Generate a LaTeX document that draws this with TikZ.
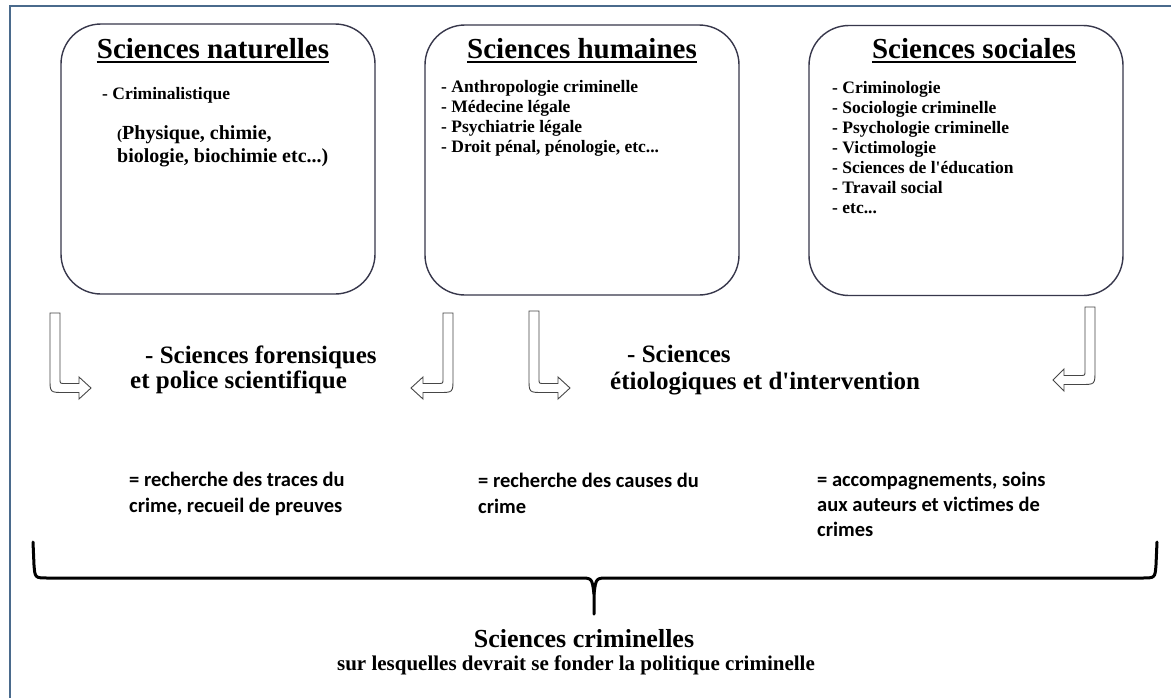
\documentclass[tikz,border=0pt]{standalone}
\usepackage{fontspec}
\setmainfont{Liberation Serif}
\newfontfamily\calib{Carlito}
\definecolor{framecol}{RGB}{74,106,140}
\definecolor{boxcol}{RGB}{55,55,75}
\definecolor{arrcol}{RGB}{70,70,70}
\newcommand\bentR[5]{% shaft left x, top y, centre y, head base x, tip x
  \draw[barrow] (#1,#2) -- ({#1+10},#2) -- ({#1+10},{#3-9}) .. controls ({#1+10},{#3-4.5}) .. ({#1+15},{#3-4.5}) -- (#4,{#3-4.5}) -- (#4,{#3-11}) -- (#5,#3) -- (#4,{#3+11}) -- (#4,{#3+4.5}) -- ({#1+14},{#3+4.5}) .. controls (#1,{#3+4.5}) .. (#1,{#3-9.5}) -- cycle;}
\newcommand\bentL[5]{% shaft right x, top y, centre y, head base x, tip x
  \draw[barrow] (#1,#2) -- ({#1-10},#2) -- ({#1-10},{#3-9}) .. controls ({#1-10},{#3-4.5}) .. ({#1-15},{#3-4.5}) -- (#4,{#3-4.5}) -- (#4,{#3-11}) -- (#5,#3) -- (#4,{#3+11}) -- (#4,{#3+4.5}) -- ({#1-14},{#3+4.5}) .. controls (#1,{#3+4.5}) .. (#1,{#3-9.5}) -- cycle;}
\begin{document}
\begin{tikzpicture}[x=1pt,y=-1pt,
  box/.style={draw=boxcol, line width=1.4pt, rounded corners=40pt, minimum width=314pt, minimum height=270pt, inner sep=0pt},
  ttl/.style={font=\bfseries\fontsize{29}{34}\selectfont, inner sep=0pt, anchor=base},
  item/.style={font=\bfseries\fontsize{17.5}{20}\selectfont, inner sep=0pt, anchor=base west},
  mid/.style={font=\bfseries\fontsize{25}{30}\selectfont, inner sep=0pt, anchor=base west},
  note/.style={font=\calib\bfseries\fontsize{20.5}{25}\selectfont, inner sep=0pt, anchor=base west},
  barrow/.style={draw=arrcol, fill=white, line width=0.9pt, line join=miter},
  uline/.style={line width=1.8pt}]
\useasboundingbox (0,0) rectangle (1171,697);
\fill[white] (0,0) rectangle (1171,697);
% frame
\draw[framecol, line width=2.6pt] (10,700) -- (10,6) -- (1175,6);
% boxes
\node[box] (nat) at (218,159) {};
\node[box] (hum) at (582,160) {};
\node[box] (soc) at (966,160.5) {};
% titles
\node[ttl] (tnat) at (213,58) {Sciences naturelles};
\node[ttl] (thum) at (582,58) {Sciences humaines};
\node[ttl] (tsoc) at (974,58) {Sciences sociales};
\foreach \t in {tnat,thum,tsoc}
  \draw[uline] ([yshift=-4pt]\t.base west) -- ([yshift=-4pt]\t.base east);
% box 1 content
\node[item] (n1) at (102,99) {- Criminalistique};
\node[item, font=\bfseries\fontsize{20}{23}\selectfont] (n2) at (117,139) {{\fontsize{15}{15}\selectfont(}Physique, chimie,};
\node[item, font=\bfseries\fontsize{20}{23}\selectfont] (n3) at (117,162) {biologie, biochimie etc...)};
% box 2 content
\node[item] (h1) at (441,92) {- Anthropologie criminelle};
\node[item] (h2) at (441,112) {- Médecine légale};
\node[item] (h3) at (441,132) {- Psychiatrie légale};
\node[item] (h4) at (441,152) {- Droit pénal, pénologie, etc...};
% box 3 content
\node[item] (s1) at (832,93) {- Criminologie};
\node[item] (s2) at (832,113) {- Sociologie criminelle};
\node[item] (s3) at (832,133) {- Psychologie criminelle};
\node[item] (s4) at (832,153) {- Victimologie};
\node[item] (s5) at (832,173) {- Sciences de l\textquotesingle éducation};
\node[item] (s6) at (832,193) {- Travail social};
\node[item] (s7) at (832,213) {- etc...};
% bent arrows
\bentR{50}{313}{388}{79}{91}
\bentL{453}{313}{388}{423}{411}
\bentR{529}{311}{388}{558}{570}
\bentL{1095}{307}{380}{1064}{1053}
% middle texts
\node[mid] (f1) at (145,363) {- Sciences forensiques};
\node[mid] (f2) at (130,388) {et police scientifique};
\node[mid] (e1) at (627,362) {- Sciences};
\node[mid] (e2) at (610,389) {étiologiques et d\textquotesingle intervention};
% notes
\node[note] (r1a) at (129,486) {= recherche des traces du};
\node[note] (r1b) at (129,512) {crime, recueil de preuves};
\node[note] (r2a) at (478,487) {= recherche des causes du};
\node[note] (r2b) at (478,513) {crime};
\node[note] (r3a) at (817,486) {= accompagnements, soins};
\node[note] (r3b) at (817,511) {aux auteurs et victimes de};
\node[note] (r3c) at (817,536) {crimes};
% brace
\draw[line width=3pt, line cap=round, line join=round]
  (33,542) -- (34,565) .. controls (35,578) .. (48,578) -- (580,578)
  .. controls (592,578) .. (594,594) -- (594,614);
\draw[line width=3pt, line cap=round, line join=round]
  (1157,542) -- (1156,565) .. controls (1155,578) .. (1142,578) -- (608,578)
  .. controls (596,578) .. (594,594);
% bottom title
\node[ttl, font=\bfseries\fontsize{26}{30}\selectfont] (sc) at (584,647) {Sciences criminelles};
\node[ttl, font=\bfseries\fontsize{21}{25}\selectfont] (sl) at (576,670) {sur lesquelles devrait se fonder la politique criminelle};
\end{tikzpicture}
\end{document}
